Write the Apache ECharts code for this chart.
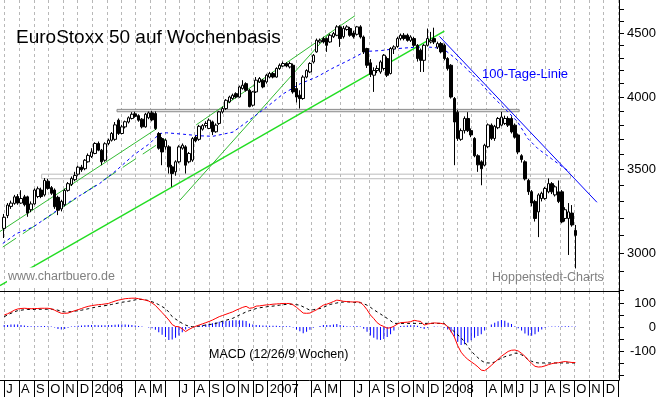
<!DOCTYPE html>
<html><head><meta charset="utf-8">
<script src="https://cdn.jsdelivr.net/npm/echarts@6/dist/echarts.min.js"></script>
<style>html,body{margin:0;padding:0;background:#fff}#c{width:660px;height:397px}</style>
</head><body><div id="c"></div>
<script>
// ---------- data ----------
const firstWeek = '2005-07-01';           // weekly candles, one per week
const open = [
3140,3215,3270,3288,3330,3290,3328,3328,3250,3285,
3330,3370,3340,3425,3385,3370,3325,3255,3280,3368,
3405,3435,3470,3515,3505,3550,3585,3605,3672,3627,
3560,3672,3694,3700,3833,3740,3786,3820,3845,3878,
3865,3840,3786,3850,3885,3880,3740,3705,3649,3649,
3517,3485,3550,3640,3649,3550,3561,3715,3700,3770,
3795,3775,3821,3752,3810,3892,3916,3964,3989,4025,
4000,4063,4100,4050,3940,4038,4113,4126,4113,4150,
4177,4150,4216,4235,4255,4228,4241,4063,4013,3989,
4150,4189,4267,4347,4427,4455,4455,4427,4470,4482,
4552,4470,4530,4538,4500,4490,4552,4468,4374,4260,
4164,4200,4189,4216,4294,4177,4370,4390,4455,4482,
4482,4440,4455,4400,4360,4280,4400,4427,4455,4385,
4414,4400,4294,4241,3989,3890,3700,3760,3845,3760,
3706,3590,3550,3528,3650,3798,3706,3780,3798,3810,
3845,3845,3798,3730,3590,3550,3430,3360,3300,3237,
3318,3318,3359,3410,3340,3359,3359,3198,3198,3230,
3128];
const close = [
3205,3278,3290,3328,3290,3318,3280,3230,3285,3370,
3378,3330,3430,3380,3350,3268,3247,3300,3368,3410,
3443,3462,3515,3498,3560,3592,3615,3672,3627,3550,
3670,3694,3740,3800,3740,3786,3822,3850,3875,3860,
3833,3786,3875,3885,3835,3775,3640,3615,3694,3517,
3474,3550,3649,3660,3528,3605,3705,3690,3790,3795,
3810,3833,3752,3798,3892,3916,3976,4000,4013,4000,
4075,4088,4050,3930,4038,4126,4139,4075,4164,4177,
4150,4216,4241,4255,4235,4255,4038,4000,3989,4150,
4200,4255,4320,4441,4441,4427,4400,4482,4496,4552,
4455,4540,4552,4482,4470,4552,4468,4347,4241,4170,
4200,4216,4267,4320,4164,4374,4387,4455,4482,4455,
4440,4468,4400,4294,4280,4400,4455,4440,4427,4414,
4347,4294,4215,4000,3820,3706,3760,3845,3760,3730,
3590,3530,3505,3660,3800,3706,3790,3845,3855,3845,
3798,3751,3715,3615,3565,3440,3360,3290,3198,3340,
3350,3380,3410,3359,3390,3300,3178,3250,3237,3160,
3100];
const low = [
3085,3200,3255,3280,3280,3285,3270,3208,3235,3280,
3320,3320,3330,3372,3340,3255,3218,3240,3270,3360,
3395,3425,3460,3485,3495,3545,3575,3600,3620,3528,
3550,3660,3685,3690,3730,3735,3775,3810,3838,3850,
3822,3775,3780,3840,3825,3765,3630,3528,3630,3474,
3390,3460,3540,3630,3474,3540,3550,3680,3690,3760,
3780,3770,3729,3745,3800,3880,3905,3955,3980,3990,
3995,4055,4040,3925,3930,4030,4105,4065,4100,4140,
4140,4145,4205,4228,4225,4216,4025,3960,3916,3980,
4140,4180,4255,4340,4415,4415,4347,4420,4460,4475,
4387,4455,4520,4470,4455,4480,4455,4330,4220,4150,
4038,4180,4175,4200,4150,4170,4330,4380,4440,4440,
4430,4427,4387,4270,4189,4189,4390,4415,4410,4370,
4335,4280,4200,3989,3528,3690,3690,3740,3750,3715,
3580,3485,3400,3520,3640,3695,3690,3770,3790,3800,
3785,3740,3705,3600,3545,3430,3340,3270,3180,3090,
3300,3310,3350,3345,3330,3290,3170,3180,2990,3150,
2917];
const high = [
3225,3290,3305,3340,3345,3369,3340,3335,3300,3380,
3392,3385,3445,3440,3395,3380,3335,3310,3378,3420,
3455,3485,3525,3530,3568,3605,3640,3680,3685,3635,
3680,3705,3750,3820,3845,3800,3830,3860,3890,3893,
3875,3848,3885,3895,3900,3895,3750,3715,3705,3660,
3530,3560,3660,3672,3660,3615,3715,3725,3800,3805,
3825,3845,3830,3810,3900,3930,3985,4010,4025,4035,
4085,4126,4110,4060,4045,4150,4150,4135,4175,4190,
4189,4225,4255,4270,4265,4270,4255,4113,4050,4164,
4210,4265,4330,4455,4455,4470,4465,4495,4510,4566,
4566,4560,4566,4552,4520,4560,4566,4480,4380,4290,
4225,4240,4280,4330,4310,4385,4400,4470,4496,4500,
4496,4482,4468,4410,4374,4410,4538,4510,4545,4430,
4427,4414,4305,4250,4000,3905,3775,3860,3890,3775,
3715,3600,3560,3670,3810,3810,3800,3855,3892,3865,
3860,3860,3810,3740,3600,3560,3440,3370,3310,3350,
3360,3390,3443,3420,3400,3430,3370,3265,3290,3278,
3160];

// MACD (12/26/9), one value per week
const macd = [
50,55,62,70,75,77,78,77,76,77,
77,78,78,78,76,70,63,57,57,58,
63,68,72,77,82,86,89,91,93,94,
96,98,103,108,112,115,118,119,120,120,
118,115,112,108,100,90,75,60,45,29,
10,2,1,-8,-19,-10,-3,3,8,13,
18,23,29,36,43,48,53,58,63,70,
76,82,86,78,80,87,88,90,92,93,
95,96,97,98,98,98,92,82,70,58,
57,58,65,72,82,91,95,100,106,112,
110,107,106,105,104,105,103,90,72,50,
35,18,8,2,-5,-3,3,12,18,19,
20,22,28,25,23,8,12,15,17,16,
15,12,2,-18,-42,-78,-105,-122,-135,-145,
-155,-166,-180,-182,-172,-160,-147,-135,-122,-112,
-102,-97,-96,-100,-110,-122,-138,-152,-164,-167,
-166,-162,-157,-153,-150,-149,-146,-144,-146,-148,
-148];
const signal = [
43,50,57,63,68,70,72,73,73,73,
74,74,74,74,74,73,70,65,63,63,
64,66,68,70,73,76,79,82,85,87,
89,91,94,97,100,103,105,107,110,113,
115,115,113,110,105,100,93,85,77,62,
43,33,24,15,8,3,1,2,4,6,
8,10,12,15,19,24,28,32,36,43,
50,56,63,68,72,77,80,82,84,86,
87,89,91,93,94,95,95,93,91,84,
77,70,72,75,77,82,88,94,97,100,
103,104,105,104,103,102,101,97,91,82,
72,63,54,45,36,26,15,15,15,15,
15,15,15,15,15,15,15,15,15,15,
15,15,1,-8,-20,-33,-45,-62,-82,-100,
-115,-128,-140,-148,-150,-150,-146,-137,-130,-124,
-119,-116,-109,-110,-116,-125,-137,-143,-148,-150,
-150,-150,-150,-150,-150,-150,-150,-150,-150,-150,
-150];
const hist = [
8,8,10,10,10,8,6,4,3,3,
3,4,4,3,2,-2,-8,-10,-8,-3,
2,3,5,6,7,8,8,8,7,7,
7,8,8,9,10,10,10,9,8,6,
4,2,0,-2,-5,-12,-22,-32,-42,-54,
-52,-45,-35,-22,-10,-4,0,2,4,7,
10,13,16,20,22,24,25,26,28,28,
28,27,25,15,10,8,7,6,6,5,
5,5,4,4,3,3,-2,-10,-18,-26,
-20,-12,-3,0,4,8,8,8,10,12,
8,5,3,2,3,4,2,-7,-20,-35,
-45,-52,-54,-50,-42,-30,-15,0,4,5,
6,7,8,5,-4,-8,-3,0,2,1,
1,-3,-10,-22,-40,-62,-75,-72,-65,-55,
-45,-38,-30,-15,0,10,18,24,29,26,
18,12,3,-5,-15,-27,-35,-37,-30,-20,
-10,-3,1,2,2,2,3,3,3,2,
2];

// 100-Tage-Linie, read at points along the dashed blue curve
const maDates = ['2005-06-28','2005-07-27','2005-08-31','2005-10-05','2005-11-09','2005-12-13',
 '2006-01-16','2006-02-20','2006-03-27','2006-04-30','2006-05-21','2006-06-04','2006-07-09',
 '2006-08-13','2006-09-09','2006-10-21','2006-12-02','2006-12-30','2007-02-03','2007-03-10',
 '2007-04-13','2007-05-14','2007-06-25','2007-07-23','2007-08-26','2007-09-23','2007-11-07',
 '2007-12-05','2008-01-01','2008-01-25','2008-02-19','2008-03-22','2008-04-18','2008-05-09',
 '2008-06-05','2008-06-26','2008-07-17','2008-08-14','2008-09-11','2008-09-22'];
const maValues = [3054,3111,3149,3218,3288,3349,3411,3495,3593,3671,3740,3745,3735,3724,3721,
 3750,3855,3927,4025,4100,4150,4214,4292,4350,4358,4372,4385,4385,4374,4302,4216,4094,3988,
 3916,3820,3705,3637,3571,3506,3484];

// drawn trend lines: [startDate, startValue, endDate, endValue]
const trendThick = ['2005-06-22', 2826, '2008-01-04', 4516];
const trendThin = [
  ['2005-06-22', 3122, '2006-05-15', 3774],
  ['2006-07-02', 3307, '2007-05-11', 4505],
  ['2006-08-05', 3800, '2007-07-02', 4647]
];
const trendThinDashed = [['2005-06-28', 3034, '2006-06-01', 3700]];
const downTrend = ['2007-12-25', 4472, '2008-11-17', 3295];
// horizontal resistance / support bands: [from, to, upper, lower]
const bandUpper = ['2006-02-21', '2008-06-08', 3910, 3893];
const bandLower = ['2005-09-17', '2008-09-23', 3470, 3441];

const monthLabels = ['J','A','S','O','N','D',
 '2006','','','A','M','','J','A','S','O','N','D',
 '2007','','','A','M','','J','A','S','O','N','D',
 '2008','','','A','M','J','J','A','S','O','N','D'];
const priceTicks = [3000, 3500, 4000, 4500];
const priceMinorTicks = [2800,2900,3000,3100,3200,3300,3400,3500,3600,3700,3800,3900,4000,4100,4200,4300,4400,4500,4600,4700];
const macdTicks = [-100, 0, 100];
const macdMinorTicks = [-200,-150,-100,-50,0,50,100];

// ---------- build ----------
const DAY = 86400000;
function day(s){ const p = s.split('-').map(Number); return Date.UTC(p[0], p[1]-1, p[2]); }
const t0 = day(firstWeek);
const weeks = open.map((_, i) => t0 + i*7*DAY);
const xMin = Date.UTC(2005, 5, 22, 5);
const xMax = Date.UTC(2009, 0, 2);
const monthStarts = [];
for (let i = 0; i <= 42; i++) monthStarts.push(Date.UTC(2005, 6 + i, 1));
const labelStarts = monthStarts.slice(0, 42);

const FONT = '"Liberation Sans", Arial, sans-serif';
const gridLine = { show: true, lineStyle: { color: '#b8b8b8', width: 1, type: [3, 3] } };

function seg(a, style, z){
  return { type: 'line', xAxisIndex: 0, yAxisIndex: 0, silent: true, symbol: 'none', z: z || 2,
    data: [[day(a[0]), a[1]], [day(a[2]), a[3]]], lineStyle: style, animation: false };
}

const series = [
  {
    type: 'candlestick', xAxisIndex: 0, yAxisIndex: 0, z: 4,
    data: weeks.map((t, i) => [t, open[i], close[i], low[i], high[i]]),
    encode: { x: 0, y: [1, 2, 3, 4] },
    barWidth: 3,
    itemStyle: { color: '#ffffff', color0: '#000000', borderColor: '#000000', borderColor0: '#000000', borderWidth: 1 },
    markArea: {
      silent: true,
      data: [
        [{ coord: [day(bandUpper[0]), bandUpper[2]], itemStyle: { color: '#e4e4e4', borderColor: '#8a8a8a', borderWidth: 1 } },
         { coord: [day(bandUpper[1]), bandUpper[3]] }],
        [{ coord: [day(bandLower[0]), bandLower[2]], itemStyle: { color: 'rgba(255,255,255,0)', borderColor: '#bcbcbc', borderWidth: 1 } },
         { coord: [day(bandLower[1]), bandLower[3]] }]
      ]
    }
  },
  {
    type: 'line', xAxisIndex: 0, yAxisIndex: 0, silent: true, symbol: 'none', z: 3,
    data: maDates.map((d, i) => [day(d), maValues[i]]),
    lineStyle: { color: '#0000ff', width: 1, type: [3, 3] }
  },
  seg(trendThick, { color: '#22dd22', width: 1.5 }),
  ...trendThin.map(a => seg(a, { color: '#33bb33', width: 1 })),
  ...trendThinDashed.map(a => seg(a, { color: '#33bb33', width: 1, type: [16, 8] })),
  seg(downTrend, { color: '#0000ff', width: 1 }, 3),
  {
    type: 'bar', xAxisIndex: 1, yAxisIndex: 1, silent: true, barWidth: 1,
    data: weeks.map((t, i) => [t, hist[i]]),
    itemStyle: { color: '#0000ff' }
  },
  {
    type: 'line', xAxisIndex: 1, yAxisIndex: 1, silent: true, symbol: 'none',
    data: weeks.map((t, i) => [t, signal[i]]),
    lineStyle: { color: '#000000', width: 1, type: [3, 3] }
  },
  {
    type: 'line', xAxisIndex: 1, yAxisIndex: 1, silent: true, symbol: 'none',
    data: weeks.map((t, i) => [t, macd[i]]),
    lineStyle: { color: '#ff0000', width: 1 }
  }
];

const option = {
  animation: false,
  backgroundColor: '#ffffff',
  textStyle: { fontFamily: FONT },
  grid: [
    { left: 0, right: 41, top: 0, height: 291 },
    { left: 0, right: 41, top: 291, height: 89 }
  ],
  xAxis: [
    { type: 'value', gridIndex: 0, min: xMin, max: xMax,
      axisLine: { show: true, onZero: false, lineStyle: { color: '#000', width: 1 } },
      axisTick: { show: false, customValues: monthStarts },
      axisLabel: { show: false },
      splitLine: gridLine },
    { type: 'value', gridIndex: 1, min: xMin, max: xMax,
      axisLine: { show: true, onZero: false, lineStyle: { color: '#000', width: 1 } },
      axisTick: { show: true, length: 17, customValues: monthStarts, lineStyle: { color: '#000' } },
      axisLabel: { show: true, customValues: labelStarts, align: 'left', margin: 3, padding: [0, 0, 0, 2],
        color: '#000', fontSize: 13, fontFamily: FONT,
        formatter: v => { const i = labelStarts.indexOf(v); return i >= 0 ? monthLabels[i] : ''; } },
      splitLine: gridLine }
  ],
  yAxis: [
    { type: 'log', logBase: 10, gridIndex: 0, position: 'right', min: 2798, max: 4783,
      axisLine: { show: true, lineStyle: { color: '#000' } },
      axisTick: { show: true, length: 5, customValues: priceMinorTicks, lineStyle: { color: '#000' } },
      axisLabel: { customValues: priceTicks, align: 'right', margin: 37, color: '#000', fontSize: 13, fontFamily: FONT,
        formatter: v => String(Math.round(v)) },
      splitLine: { show: false } },
    { type: 'value', gridIndex: 1, position: 'right', min: -221, max: 150,
      axisLine: { show: true, lineStyle: { color: '#000' } },
      axisTick: { show: true, length: 5, customValues: macdMinorTicks, lineStyle: { color: '#000' } },
      axisLabel: { customValues: macdTicks, align: 'right', margin: 37, color: '#000', fontSize: 13, fontFamily: FONT,
        formatter: v => String(Math.round(v)) },
      splitLine: { show: false } }
  ],
  series: series,
  graphic: [
    { type: 'text', z: 100, style: { text: 'EuroStoxx 50 auf Wochenbasis', x: 16, y: 38, verticalAlign: 'middle',
        font: '19px ' + FONT, fill: '#000' } },
    { type: 'text', z: 100, style: { text: '100-Tage-Linie', x: 482, y: 74, verticalAlign: 'middle',
        font: '13px ' + FONT, fill: '#0000ff' } },
    { type: 'text', z: 100, style: { text: 'www.chartbuero.de', x: 7, y: 277, verticalAlign: 'middle',
        font: '12.5px ' + FONT, fill: '#808080', backgroundColor: '#fff', padding: [3, 1] } },
    { type: 'text', z: 100, style: { text: 'Hoppenstedt-Charts', x: 492, y: 278, verticalAlign: 'middle',
        font: '12.5px ' + FONT, fill: '#808080' } },
    { type: 'text', z: 100, style: { text: 'MACD (12/26/9 Wochen)', x: 209, y: 355, verticalAlign: 'middle',
        font: '12.5px ' + FONT, fill: '#000' } }
  ]
};

const chart = echarts.init(document.getElementById('c'), null, { renderer: 'canvas' });
chart.setOption(option);
</script>
</body></html>
